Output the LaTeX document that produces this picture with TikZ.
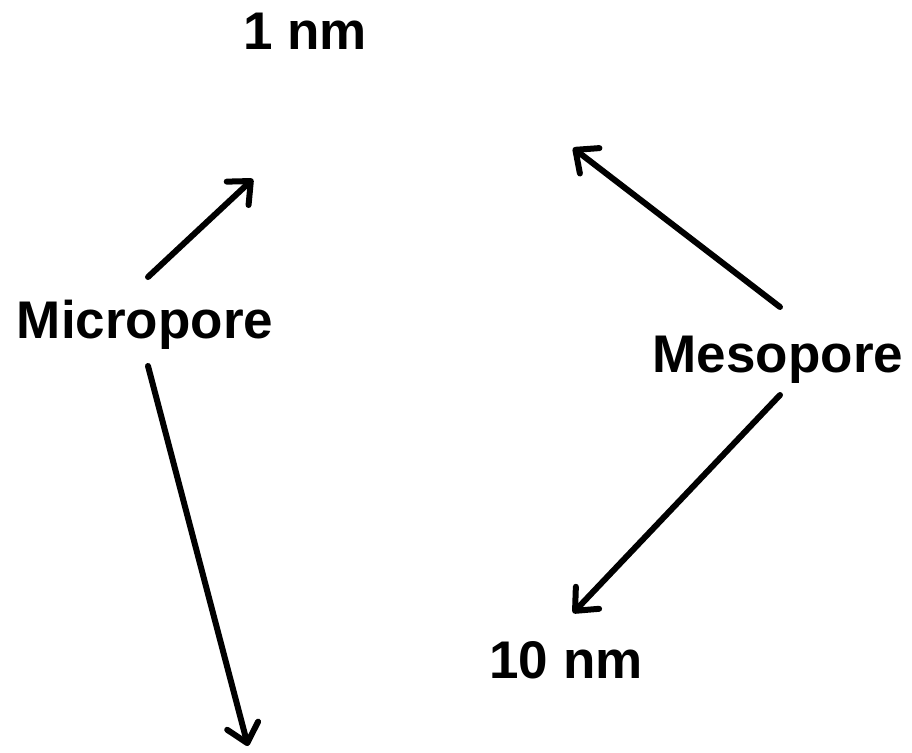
\documentclass[tikz,border=0pt]{standalone}
\usepackage{fontspec}
\setmainfont{Liberation Sans}
\usetikzlibrary{arrows.meta}
\tikzset{
  lbl/.style={anchor=base, inner sep=0pt, font=\fontsize{53}{62}\selectfont\bfseries},
  arr/.style={line width=6pt, line cap=round, -{Straight Barb[length=18pt,width=32pt,round]}}
}
\begin{document}
\begin{tikzpicture}[x=1pt,y=-1pt]
\useasboundingbox (0,0) rectangle (912,752);
\node[lbl] (one) at (305,50) {1 nm};
\node[lbl] (micro) at (145,338) {Micropore};
\node[lbl] (meso) at (778,372) {Mesopore};
\node[lbl] (ten) at (566,678) {10 nm};
\coordinate (m1s) at (148,277);
\coordinate (m1e) at (253,179);
\coordinate (m2s) at (148,366);
\coordinate (m2e) at (248,746);
\coordinate (s1s) at (780,307);
\coordinate (s1e) at (573,148);
\coordinate (s2s) at (780,395);
\coordinate (s2e) at (573,613);
\draw[arr] (m1s) -- (m1e);
\draw[arr] (m2s) -- (m2e);
\draw[arr] (s1s) -- (s1e);
\draw[arr] (s2s) -- (s2e);
\end{tikzpicture}
\end{document}
